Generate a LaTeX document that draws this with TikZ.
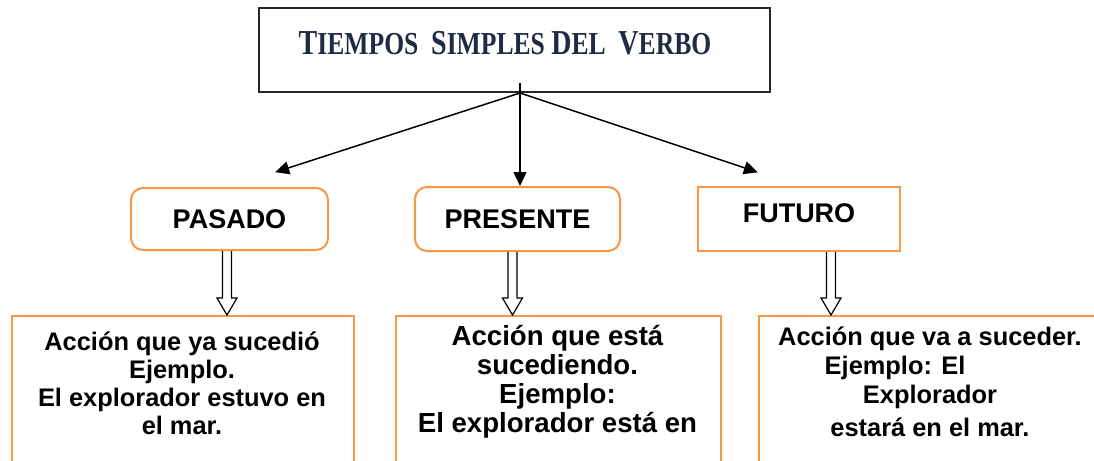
\documentclass[tikz,border=0pt]{standalone}
\usepackage{fontspec}
\usepackage{graphicx}
\setmainfont{Liberation Serif}
\setsansfont{Liberation Sans}
\usetikzlibrary{arrows.meta,calc}

\definecolor{naranja}{HTML}{F79646}
\definecolor{azulosc}{HTML}{1F2A44}

\newcommand{\mayus}[1]{{\fontsize{17.5}{18}\selectfont #1}}
\newcommand{\flechahueca}[2]{%
  \draw[line width=0.6pt] let \p1=(#1), \p2=(#2) in
    (\x1-2.25pt,\y1) -- (\x1-2.25pt,\y2+8.5pt) -- (\x1-5pt,\y2+8.5pt) -- (\x1,\y2)
    -- (\x1+5pt,\y2+8.5pt) -- (\x1+2.25pt,\y2+8.5pt) -- (\x1+2.25pt,\y1);}

\begin{document}
\begin{tikzpicture}[x=0.5pt,y=-0.5pt,
    tiempo/.style={draw=naranja,line width=1pt,
      font=\sffamily\bfseries\fontsize{13.5}{16}\selectfont},
    ejemplo/.style={draw=naranja,line width=1pt,anchor=north west,minimum height=90pt},
    texto/.style={align=center,anchor=north,inner sep=0pt,
      font=\sffamily\bfseries\fontsize{12.7}{14}\selectfont},
    flecha/.style={line width=0.75pt,-{Triangle[length=7pt,width=6.5pt]}}]
  \useasboundingbox (0,0) rectangle (1094,461);
  \clip (0,0) rectangle (1094,461);

  \node[draw=black!85,line width=1pt,minimum width=255.5pt,minimum height=42pt]
    (titulo) at (514.5,50) {};
  \node[font=\bfseries\fontsize{16}{18}\selectfont,text=azulosc] (tittexto) at (505,43)
    {\scalebox{0.8}[1]{\mayus{T}IEMPOS\ \ \mayus{S}IMPLES \mayus{D}EL\ \ \mayus{V}ERBO}};

  \node[tiempo,rounded corners=6pt,minimum width=98.5pt,minimum height=31pt]
    (pasado) at (229.5,219) {PASADO};
  \node[tiempo,rounded corners=6pt,minimum width=102.5pt,minimum height=32pt]
    (presente) at (517.5,219) {PRESENTE};
  \node[tiempo,minimum width=101pt,minimum height=32pt,text depth=6pt]
    (futuro) at (799,219) {FUTURO};

  \node[ejemplo,minimum width=171pt] (accpas) at (11,315) {};
  \node[ejemplo,minimum width=162.5pt] (accpre) at (395,315) {};
  \node[ejemplo,minimum width=172pt] (accfut) at (758,315) {};

  \node[texto] (txtpas) at (182,331)
    {Acción que ya sucedió\\Ejemplo.\\El explorador estuvo en\\el mar.};
  \node[texto,font=\sffamily\bfseries\fontsize{13.8}{14.5}\selectfont] (txtpre) at (557.5,325)
    {Acción que está\\sucediendo.\\Ejemplo:\\El explorador está en};
  \node[texto,font=\sffamily\bfseries\fontsize{12.7}{14.5}\selectfont] (txtfut) at (930,326)
    {Acción que va a suceder.\\Ejemplo: El\rule{2.75em}{0pt}\\Explorador\\[2pt]estará en el mar.};

  \coordinate (raiz) at ([xshift=2.75pt]titulo.south);
  \draw[flecha,shorten >=24pt] (raiz) -- (pasado.north);
  \draw[flecha] ([yshift=5pt]raiz) -- (raiz |- presente.north);
  \draw[flecha,shorten >=21.7pt] (raiz) -- (futuro.north);

  \flechahueca{$(pasado.south)+(-2.5,0)$}{accpas.north}
  \flechahueca{$(presente.south)+(-5,0)$}{accpre.north}
  \flechahueca{$(futuro.south)+(32,0)$}{accfut.north}
\end{tikzpicture}
\end{document}
